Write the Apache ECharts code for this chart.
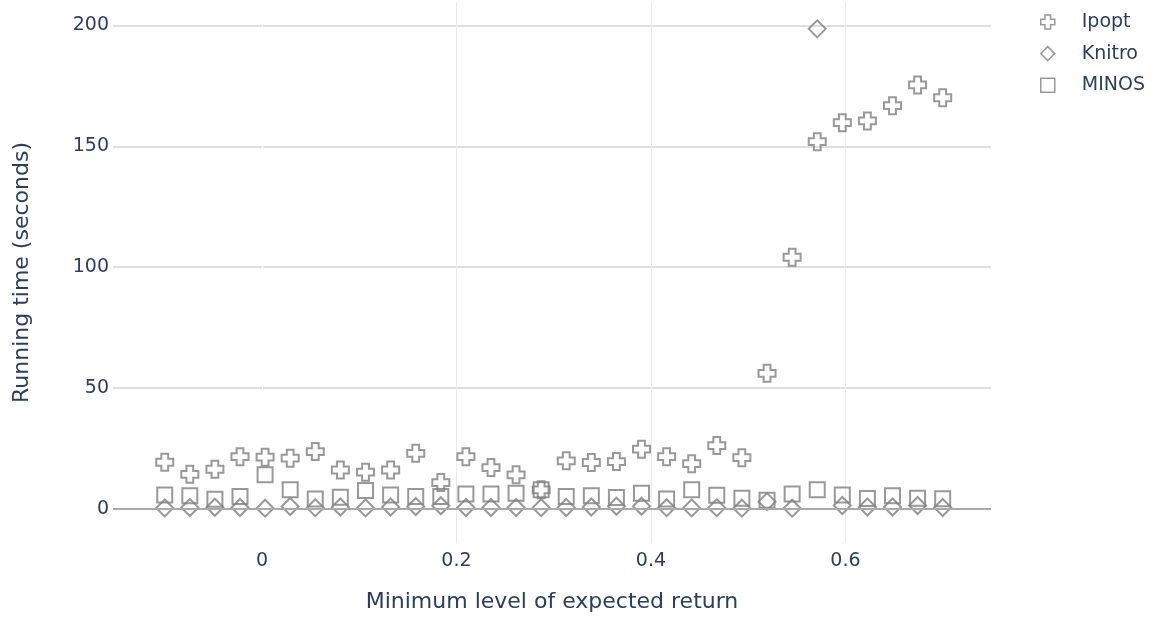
<!DOCTYPE html>
<html>
<head>
<meta charset="utf-8">
<script src="https://cdn.jsdelivr.net/npm/echarts@6/dist/echarts.min.js"></script>
<style>
html,body{margin:0;padding:0;background:#fff;}
#chart{width:1160px;height:623px;}
</style>
</head>
<body>
<div id="chart"></div>
<script>
// Minimum level of expected return (x)
var returnLevels = [-0.1, -0.0742, -0.0484, -0.0226, 0.0032, 0.0290, 0.0548, 0.0806,
  0.1065, 0.1323, 0.1581, 0.1839, 0.2097, 0.2355, 0.2613, 0.2871,
  0.3129, 0.3387, 0.3645, 0.3903, 0.4161, 0.4419, 0.4677, 0.4935,
  0.5194, 0.5452, 0.5710, 0.5968, 0.6226, 0.6484, 0.6742, 0.7];
// Running times (seconds)
var ipoptTimes = [19.3, 14.3, 16.4, 21.6, 21.4, 21.0, 23.7, 16.1, 15.2, 16.1, 23.0, 10.9,
  21.6, 17.1, 14.1, 7.9, 19.9, 19.2, 19.6, 24.7, 21.6, 18.7, 26.2, 21.2,
  56.1, 104.1, 151.9, 159.8, 160.5, 166.8, 175.4, 170.1];
var knitroTimes = [0.4, 0.6, 0.7, 0.6, 0.3, 1.0, 0.5, 0.8, 0.4, 0.8, 1.0, 1.3,
  0.6, 0.6, 0.6, 0.5, 0.6, 0.8, 1.1, 1.1, 0.5, 0.4, 0.5, 0.3,
  3.0, 0.3, 198.6, 1.4, 0.8, 0.8, 1.4, 0.6];
var minosTimes = [5.8, 5.4, 4.0, 5.1, 14.1, 7.9, 4.1, 4.8, 7.6, 5.8, 5.1, 5.1,
  6.2, 6.2, 6.5, 7.9, 5.1, 5.4, 4.7, 6.5, 4.1, 7.9, 5.7, 4.4,
  3.6, 6.2, 7.9, 5.8, 4.3, 5.4, 4.4, 4.2];
var seriesNames = ['Ipopt', 'Knitro', 'MINOS'];
var xTitle = 'Minimum level of expected return';
var yTitle = 'Running time (seconds)';

function pairs(ys) { return returnLevels.map(function (x, i) { return [x, ys[i]]; }); }

var FONT = 'DejaVu Sans';
var TXT = '#2a3f5f';
var MK = '#7f7f7f';
var crossPath = 'path://M3,0 L7,0 L7,3 L10,3 L10,7 L7,7 L7,10 L3,10 L3,7 L0,7 L0,3 L3,3 Z';

function isNice(v, step) { return Math.abs(v / step - Math.round(v / step)) < 1e-6; }

var chart = echarts.init(document.getElementById('chart'), null, {renderer: 'canvas'});
var markerStyle = {color: 'rgba(255,255,255,0)', borderColor: MK, borderWidth: 2};
var legendIconStyle = {color: 'rgba(255,255,255,0)', borderColor: MK, borderWidth: 1.5};
var option = {
  backgroundColor: '#ffffff',
  animation: false,
  grid: {left: 113, right: 169, top: 2, bottom: 80, containLabel: false},
  legend: {
    orient: 'vertical', left: 1035, top: 6, itemGap: 9.6,
    itemWidth: 14, itemHeight: 14,
    textStyle: {color: TXT, fontFamily: FONT, fontSize: 19, lineHeight: 22, padding: [0, 0, 0, 22]},
    data: [
      {name: seriesNames[0], icon: crossPath, itemStyle: legendIconStyle},
      {name: seriesNames[1], icon: 'diamond', itemStyle: legendIconStyle},
      {name: seriesNames[2], icon: 'rect', itemStyle: legendIconStyle}
    ]
  },
  xAxis: {
    type: 'value', min: -0.1532, max: 0.7497,
    name: xTitle, nameLocation: 'middle', nameGap: 48,
    nameTextStyle: {color: TXT, fontFamily: FONT, fontSize: 22},
    axisLine: {show: false}, axisTick: {show: false},
    axisLabel: {color: TXT, fontFamily: FONT, fontSize: 19, margin: 9,
      showMinLabel: false, showMaxLabel: false,
      formatter: function (v) { return isNice(v, 0.2) ? String(+v.toFixed(1)) : ''; }},
    splitLine: {show: true, showMinLine: false, showMaxLine: false,
      lineStyle: {color: ['#ffffff', '#ebebeb', '#ebebeb', '#ebebeb'], width: 1}}
  },
  yAxis: {
    type: 'value', min: -14.1, max: 209.7,
    name: yTitle, nameLocation: 'middle', nameGap: 80,
    nameTextStyle: {color: TXT, fontFamily: FONT, fontSize: 22},
    axisLine: {show: false}, axisTick: {show: false},
    axisLabel: {color: TXT, fontFamily: FONT, fontSize: 19, margin: 4,
      showMinLabel: false, showMaxLabel: false,
      formatter: function (v) { return isNice(v, 50) ? String(Math.round(v)) : ''; }},
    splitLine: {show: true, showMinLine: false, showMaxLine: false,
      lineStyle: {color: '#d4d4d4', width: 1.5}}
  },
  series: [
    {name: seriesNames[0], type: 'scatter', data: pairs(ipoptTimes), symbol: crossPath, symbolSize: 17,
      itemStyle: markerStyle,
      markLine: {silent: true, symbol: 'none', label: {show: false},
        lineStyle: {color: '#aaaaaa', width: 2, type: 'solid'}, data: [{yAxis: 0}]}},
    {name: seriesNames[1], type: 'scatter', data: pairs(knitroTimes), symbol: 'diamond', symbolSize: 17,
      itemStyle: markerStyle},
    {name: seriesNames[2], type: 'scatter', data: pairs(minosTimes), symbol: 'rect', symbolSize: 15,
      itemStyle: markerStyle}
  ]
};
chart.setOption(option);
</script>
</body>
</html>
